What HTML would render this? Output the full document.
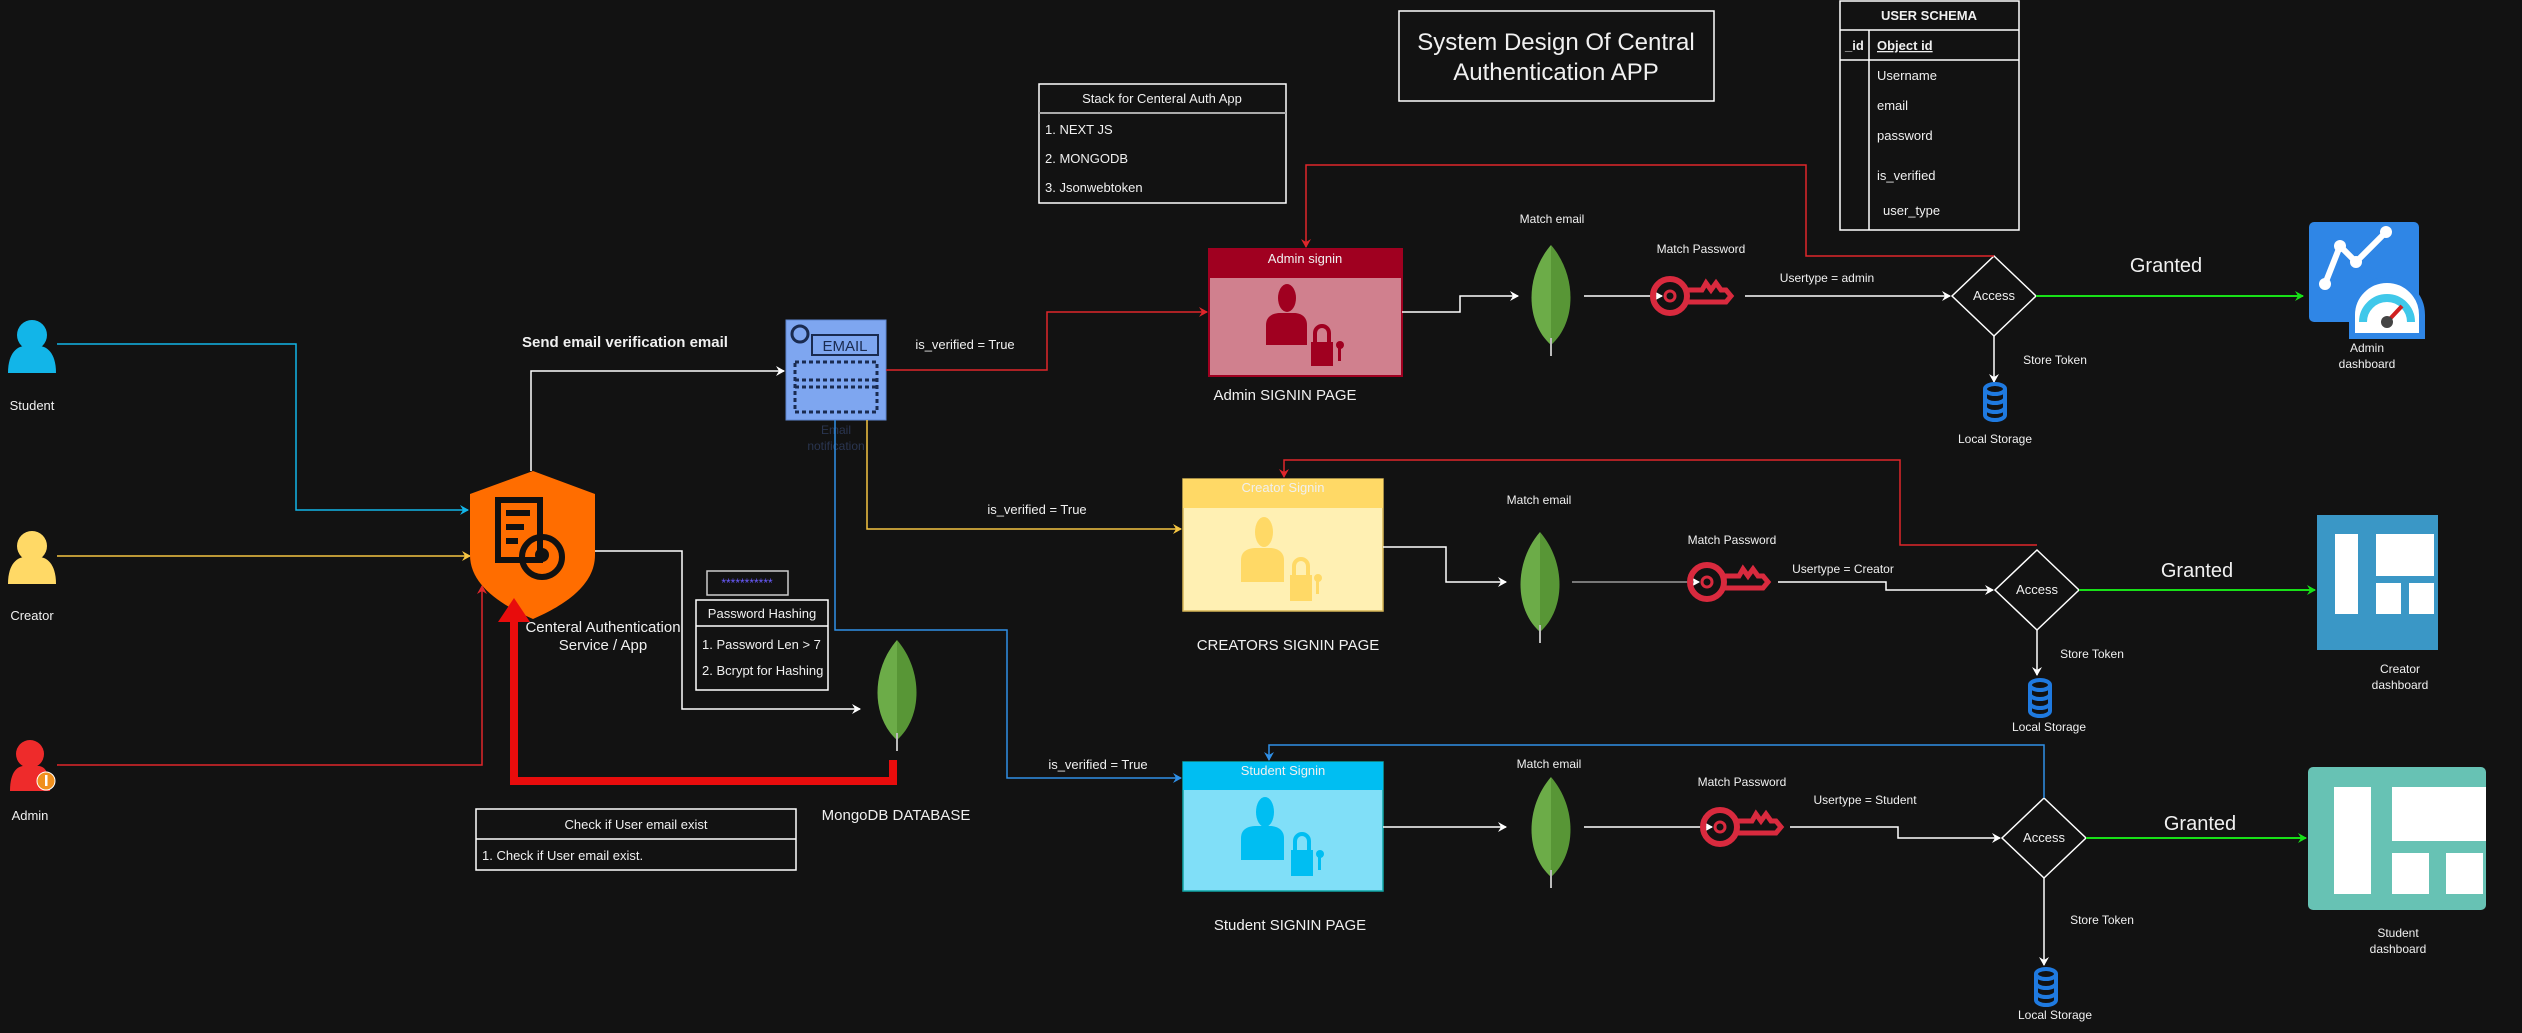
<!DOCTYPE html>
<html><head><meta charset="utf-8"><style>
html,body{margin:0;padding:0;background:#121212;}
svg{display:block;}
text{font-family:"Liberation Sans",sans-serif;fill:#f0f0f0;}
</style></head><body>
<svg width="2522" height="1033" viewBox="0 0 2522 1033" xmlns="http://www.w3.org/2000/svg">
<defs>
<marker id="aw" markerWidth="10" markerHeight="10" refX="8" refY="5" orient="auto" markerUnits="userSpaceOnUse"><path d="M0,0 L9,5 L0,10 L3,5 Z" fill="#fff"/></marker>
<marker id="ar" markerWidth="10" markerHeight="10" refX="8" refY="5" orient="auto" markerUnits="userSpaceOnUse"><path d="M0,0 L9,5 L0,10 L3,5 Z" fill="#e0262b"/></marker>
<marker id="ab" markerWidth="10" markerHeight="10" refX="8" refY="5" orient="auto" markerUnits="userSpaceOnUse"><path d="M0,0 L9,5 L0,10 L3,5 Z" fill="#2f8fe6"/></marker>
<marker id="ac" markerWidth="10" markerHeight="10" refX="8" refY="5" orient="auto" markerUnits="userSpaceOnUse"><path d="M0,0 L9,5 L0,10 L3,5 Z" fill="#12b5e8"/></marker>
<marker id="ay" markerWidth="10" markerHeight="10" refX="8" refY="5" orient="auto" markerUnits="userSpaceOnUse"><path d="M0,0 L9,5 L0,10 L3,5 Z" fill="#f5c542"/></marker>
<marker id="ag" markerWidth="10" markerHeight="10" refX="8" refY="5" orient="auto" markerUnits="userSpaceOnUse"><path d="M0,0 L9,5 L0,10 L3,5 Z" fill="#18e018"/></marker>
<g id="leaf"><path d="M0,-55 C26,-25 26,22 0,45 Z" fill="#589636"/><path d="M0,-55 C-26,-25 -26,22 0,45 Z" fill="#6cac48"/><line x1="0" y1="38" x2="0" y2="56" stroke="#bbb" stroke-width="2"/></g>
<g id="key"><circle cx="-20" cy="0" r="17" fill="none" stroke="#d92a3e" stroke-width="6"/><circle cx="-20" cy="0" r="5" fill="none" stroke="#d92a3e" stroke-width="3"/><path d="M-3,-6 L12,-6 L16,-13 L21,-6 L26,-13 L31,-6 L36,-6 L41,0 L36,6 L-3,6" fill="none" stroke="#d92a3e" stroke-width="5"/></g>
<g id="db"><g fill="none" stroke="#1f7ae0" stroke-width="4"><ellipse cx="0" cy="-13" rx="10" ry="5"/><path d="M-10,-13 V13 A10,5 0 0 0 10,13 V-13"/><path d="M-10,-4 A10,5 0 0 0 10,-4"/><path d="M-10,5 A10,5 0 0 0 10,5"/></g></g>
</defs>

<rect x="1399" y="11" width="315" height="90" fill="none" stroke="#fff" stroke-width="1.5"/>
<text x="1556" y="50" font-size="24" text-anchor="middle">System Design Of Central</text>
<text x="1556" y="80" font-size="24" text-anchor="middle">Authentication APP</text>

<rect x="1840" y="1" width="179" height="229" fill="none" stroke="#fff" stroke-width="1.5"/>
<line x1="1840" y1="30" x2="2019" y2="30" stroke="#fff" stroke-width="1.5"/>
<line x1="1840" y1="60" x2="2019" y2="60" stroke="#fff" stroke-width="1.5"/>
<line x1="1869" y1="30" x2="1869" y2="230" stroke="#fff" stroke-width="1.5"/>
<text x="1929" y="20" font-size="13" font-weight="bold" text-anchor="middle">USER SCHEMA</text>
<text x="1845" y="50" font-size="13" font-weight="bold">_id</text>
<text x="1877" y="50" font-size="13" font-weight="bold" text-decoration="underline">Object id</text>
<text x="1877" y="80" font-size="13">Username</text>
<text x="1877" y="110" font-size="13">email</text>
<text x="1877" y="140" font-size="13">password</text>
<text x="1877" y="180" font-size="13">is_verified</text>
<text x="1883" y="215" font-size="13">user_type</text>

<rect x="1039" y="84" width="247" height="119" fill="none" stroke="#fff" stroke-width="1.5"/>
<line x1="1039" y1="113" x2="1286" y2="113" stroke="#aaa" stroke-width="2"/>
<text x="1162" y="103" font-size="13" text-anchor="middle">Stack for Centeral Auth App</text>
<text x="1045" y="134" font-size="13">1. NEXT JS</text>
<text x="1045" y="163" font-size="13">2. MONGODB</text>
<text x="1045" y="192" font-size="13">3. Jsonwebtoken</text>

<g fill="#12b5e8"><circle cx="32" cy="335" r="15"/><path d="M8,373 C8,352 18,346 25,346 L39,346 C46,346 56,352 56,373 Z"/></g>
<text x="32" y="410" font-size="13" text-anchor="middle">Student</text>
<g fill="#ffd966"><circle cx="32" cy="546" r="15"/><path d="M8,584 C8,563 18,557 25,557 L39,557 C46,557 56,563 56,584 Z"/></g>
<text x="32" y="620" font-size="13" text-anchor="middle">Creator</text>
<g fill="#ee2b2b"><circle cx="30" cy="754" r="14"/><path d="M10,791 C10,771 18,766 24,766 L38,766 C44,766 50,771 50,791 Z"/></g>
<circle cx="46" cy="781" r="9" fill="#f0901e" stroke="#fff" stroke-width="1"/><rect x="45" y="775" width="2.5" height="11" fill="#fff"/>
<text x="30" y="820" font-size="13" text-anchor="middle">Admin</text>

<polyline points="57,344 296,344 296,510 468,510" fill="none" stroke="#12b5e8" stroke-width="1.5" marker-end="url(#ac)"/>
<polyline points="57,556 470,556" fill="none" stroke="#f5c542" stroke-width="1.5" marker-end="url(#ay)"/>
<polyline points="57,765 482,765 482,586" fill="none" stroke="#e0262b" stroke-width="1.5" marker-end="url(#ar)"/>

<path d="M533,471 L595,494 L595,555 C595,585 565,605 533,619 C501,605 470,585 470,555 L470,494 Z" fill="#ff6d00"/>
<g fill="none" stroke="#111" stroke-width="6"><rect x="498" y="500" width="42" height="60"/><circle cx="542" cy="557" r="20"/></g>
<g fill="#111"><rect x="506" y="510" width="24" height="6"/><rect x="506" y="524" width="18" height="6"/><rect x="506" y="538" width="12" height="6"/><circle cx="542" cy="555" r="7"/></g>
<text x="603" y="632" font-size="15" text-anchor="middle">Centeral Authentication</text>
<text x="603" y="650" font-size="15" text-anchor="middle">Service / App</text>

<polyline points="531,471 531,371 784,371" fill="none" stroke="#fff" stroke-width="1.5" marker-end="url(#aw)"/>
<text x="625" y="347" font-size="15" font-weight="bold" text-anchor="middle">Send email verification email</text>

<rect x="786" y="320" width="100" height="100" fill="#7ea6f0" stroke="#5f86d0"/>
<circle cx="800" cy="334" r="8" fill="none" stroke="#1a2b50" stroke-width="3"/>
<rect x="812" y="335" width="66" height="20" fill="none" stroke="#1a2b50" stroke-width="2"/>
<text x="845" y="351" font-size="15" text-anchor="middle" style="fill:#1a2b50">EMAIL</text>
<rect x="795" y="362" width="82" height="50" fill="none" stroke="#1a2b50" stroke-width="3" stroke-dasharray="4,3"/>
<line x1="795" y1="380" x2="877" y2="380" stroke="#1a2b50" stroke-width="3" stroke-dasharray="4,3"/>
<line x1="795" y1="387" x2="877" y2="387" stroke="#1a2b50" stroke-width="3" stroke-dasharray="4,3"/>
<text x="836" y="434" font-size="12" text-anchor="middle" style="fill:#2a3550">Email</text>
<text x="836" y="450" font-size="12" text-anchor="middle" style="fill:#2a3550">notification</text>

<polyline points="595,551 682,551 682,709 860,709" fill="none" stroke="#fff" stroke-width="1.5" marker-end="url(#aw)"/>
<rect x="707" y="571" width="81" height="24" fill="none" stroke="#ccc" stroke-width="1.5"/>
<text x="747" y="587" font-size="12" text-anchor="middle" style="fill:#6a5cff">***********</text>
<rect x="696" y="600" width="132" height="90" fill="none" stroke="#fff" stroke-width="1.5"/>
<line x1="696" y1="626" x2="828" y2="626" stroke="#fff" stroke-width="1.5"/>
<text x="762" y="618" font-size="13" text-anchor="middle">Password Hashing</text>
<text x="702" y="649" font-size="13">1. Password Len &gt; 7</text>
<text x="702" y="675" font-size="13">2. Bcrypt for Hashing</text>

<use href="#leaf" x="897" y="695"/>
<text x="896" y="820" font-size="15" text-anchor="middle">MongoDB DATABASE</text>

<polyline points="893,760 893,781 514,781 514,620" fill="none" stroke="#e80c0c" stroke-width="8"/>
<path d="M498,622 L514,598 L530,622 Z" fill="#e80c0c"/>

<rect x="476" y="809" width="320" height="61" fill="none" stroke="#fff" stroke-width="1.5"/>
<line x1="476" y1="839" x2="796" y2="839" stroke="#fff" stroke-width="1.5"/>
<text x="636" y="829" font-size="13" text-anchor="middle">Check if User email exist</text>
<text x="482" y="860" font-size="13">1. Check if User email exist.</text>

<polyline points="886,370 1047,370 1047,312 1207,312" fill="none" stroke="#e0262b" stroke-width="1.5" marker-end="url(#ar)"/>
<text x="965" y="349" font-size="13" text-anchor="middle">is_verified = True</text>
<polyline points="867,420 867,529 1181,529" fill="none" stroke="#f5c542" stroke-width="1.5" marker-end="url(#ay)"/>
<text x="1037" y="514" font-size="13" text-anchor="middle">is_verified = True</text>
<polyline points="835,420 835,630 1007,630 1007,778 1181,778" fill="none" stroke="#2f8fe6" stroke-width="1.5" marker-end="url(#ab)"/>
<text x="1098" y="769" font-size="13" text-anchor="middle">is_verified = True</text>

<!-- ADMIN ROW -->
<rect x="1209" y="249" width="193" height="127" fill="#d0808e" stroke="#a00020" stroke-width="2"/>
<rect x="1209" y="249" width="193" height="29" fill="#a00020"/>
<text x="1305" y="263" font-size="13" text-anchor="middle">Admin signin</text>
<g fill="#a00020"><ellipse cx="1287" cy="298" rx="9" ry="14"/><path d="M1266,345 L1266,325 C1266,315 1275,313 1280,313 L1294,313 C1300,313 1307,316 1307,325 L1307,345 Z"/><rect x="1311" y="342" width="22" height="24"/><path d="M1315,342 V333 A7,7 0 0 1 1329,333 V342" fill="none" stroke="#a00020" stroke-width="4"/><circle cx="1340" cy="345" r="4"/><rect x="1338" y="345" width="3" height="16"/></g>
<text x="1285" y="400" font-size="15" text-anchor="middle">Admin SIGNIN PAGE</text>
<polyline points="1402,312 1460,312 1460,296 1518,296" fill="none" stroke="#fff" stroke-width="1.5" marker-end="url(#aw)"/>
<use href="#leaf" x="1551" y="300"/>
<text x="1552" y="223" font-size="12" text-anchor="middle">Match email</text>
<line x1="1584" y1="296" x2="1662" y2="296" stroke="#fff" stroke-width="1.5" marker-end="url(#aw)"/>
<use href="#key" x="1690" y="296"/>
<text x="1701" y="253" font-size="12" text-anchor="middle">Match Password</text>
<line x1="1745" y1="296" x2="1950" y2="296" stroke="#fff" stroke-width="1.5" marker-end="url(#aw)"/>
<text x="1827" y="282" font-size="12" text-anchor="middle">Usertype = admin</text>
<polygon points="1994,256 2036,296 1994,336 1952,296" fill="#121212" stroke="#fff" stroke-width="1.5"/>
<text x="1994" y="300" font-size="13" text-anchor="middle">Access</text>
<polyline points="1994,256 1806,256 1806,165 1306,165 1306,247" fill="none" stroke="#e0262b" stroke-width="1.5" marker-end="url(#ar)"/>
<line x1="2036" y1="296" x2="2303" y2="296" stroke="#18e018" stroke-width="2" marker-end="url(#ag)"/>
<text x="2166" y="272" font-size="20" text-anchor="middle">Granted</text>
<line x1="1994" y1="336" x2="1994" y2="382" stroke="#fff" stroke-width="1.5" marker-end="url(#aw)"/>
<text x="2055" y="364" font-size="12" text-anchor="middle">Store Token</text>
<use href="#db" x="1995" y="402"/>
<text x="1995" y="443" font-size="12" text-anchor="middle">Local Storage</text>
<rect x="2309" y="222" width="110" height="100" rx="5" fill="#2f86e6"/>
<polyline points="2325,284 2340,246 2356,262 2386,232" fill="none" stroke="#fff" stroke-width="6"/>
<circle cx="2325" cy="284" r="6" fill="#fff"/><circle cx="2340" cy="246" r="6" fill="#fff"/><circle cx="2356" cy="262" r="6" fill="#fff"/><circle cx="2386" cy="232" r="6" fill="#fff"/>
<path d="M2352,336 L2352,315 A35,35 0 0 1 2422,315 L2422,336 Z" fill="#fff" stroke="#2f86e6" stroke-width="6"/>
<path d="M2363,322 A24,24 0 0 1 2411,322" fill="none" stroke="#40c8ea" stroke-width="8"/>
<line x1="2387" y1="322" x2="2402" y2="306" stroke="#d02020" stroke-width="4"/><circle cx="2387" cy="322" r="6" fill="#444"/>
<text x="2367" y="352" font-size="12" text-anchor="middle">Admin</text>
<text x="2367" y="368" font-size="12" text-anchor="middle">dashboard</text>

<!-- CREATOR ROW -->
<rect x="1183" y="479" width="200" height="132" fill="#fff0b3" stroke="#d6b656" stroke-width="1.5"/>
<rect x="1183" y="479" width="200" height="29" fill="#ffd966"/>
<text x="1283" y="492" font-size="13" text-anchor="middle">Creator Signin</text>
<g fill="#ffd966"><ellipse cx="1264" cy="532" rx="9" ry="15"/><path d="M1241,582 L1241,560 C1241,550 1250,548 1256,548 L1270,548 C1276,548 1284,551 1284,560 L1284,582 Z"/><rect x="1290" y="575" width="22" height="26"/><path d="M1294,575 V566 A7,7 0 0 1 1308,566 V575" fill="none" stroke="#ffd966" stroke-width="4"/><circle cx="1318" cy="578" r="4"/><rect x="1316" y="578" width="3" height="16"/></g>
<text x="1288" y="650" font-size="15" text-anchor="middle">CREATORS SIGNIN PAGE</text>
<polyline points="1383,547 1446,547 1446,582 1506,582" fill="none" stroke="#fff" stroke-width="1.5" marker-end="url(#aw)"/>
<use href="#leaf" x="1540" y="587"/>
<text x="1539" y="504" font-size="12" text-anchor="middle">Match email</text>
<line x1="1572" y1="582" x2="1699" y2="582" stroke="#999" stroke-width="1.5" marker-end="url(#aw)"/>
<use href="#key" x="1727" y="582"/>
<text x="1732" y="544" font-size="12" text-anchor="middle">Match Password</text>
<polyline points="1778,582 1886,582 1886,590 1993,590" fill="none" stroke="#fff" stroke-width="1.5" marker-end="url(#aw)"/>
<text x="1843" y="573" font-size="12" text-anchor="middle">Usertype = Creator</text>
<polygon points="2037,550 2079,590 2037,630 1995,590" fill="#121212" stroke="#fff" stroke-width="1.5"/>
<text x="2037" y="594" font-size="13" text-anchor="middle">Access</text>
<polyline points="2037,545 1900,545 1900,460 1284,460 1284,477" fill="none" stroke="#e0262b" stroke-width="1.5" marker-end="url(#ar)"/>
<line x1="2079" y1="590" x2="2315" y2="590" stroke="#18e018" stroke-width="2" marker-end="url(#ag)"/>
<text x="2197" y="577" font-size="20" text-anchor="middle">Granted</text>
<line x1="2037" y1="630" x2="2037" y2="675" stroke="#fff" stroke-width="1.5" marker-end="url(#aw)"/>
<text x="2092" y="658" font-size="12" text-anchor="middle">Store Token</text>
<use href="#db" x="2040" y="698"/>
<text x="2049" y="731" font-size="12" text-anchor="middle">Local Storage</text>
<rect x="2317" y="515" width="121" height="135" fill="#3a97c6"/>
<g fill="#fff"><rect x="2335" y="534" width="23" height="80"/><rect x="2376" y="534" width="58" height="42"/><rect x="2376" y="583" width="25" height="31"/><rect x="2409" y="583" width="25" height="31"/></g>
<text x="2400" y="673" font-size="12" text-anchor="middle">Creator</text>
<text x="2400" y="689" font-size="12" text-anchor="middle">dashboard</text>

<!-- STUDENT ROW -->
<rect x="1183" y="762" width="200" height="129" fill="#80dff8" stroke="#10a6a6" stroke-width="1.5"/>
<rect x="1183" y="762" width="200" height="28" fill="#00bef2"/>
<text x="1283" y="775" font-size="13" text-anchor="middle">Student Signin</text>
<g fill="#00bef2"><ellipse cx="1265" cy="812" rx="9" ry="15"/><path d="M1241,860 L1241,838 C1241,828 1250,826 1256,826 L1270,826 C1276,826 1284,829 1284,838 L1284,860 Z"/><rect x="1291" y="850" width="22" height="26"/><path d="M1295,850 V841 A7,7 0 0 1 1309,841 V850" fill="none" stroke="#00bef2" stroke-width="4"/><circle cx="1320" cy="854" r="4"/><rect x="1318" y="854" width="3" height="16"/></g>
<text x="1290" y="930" font-size="15" text-anchor="middle">Student SIGNIN PAGE</text>
<line x1="1383" y1="827" x2="1506" y2="827" stroke="#fff" stroke-width="1.5" marker-end="url(#aw)"/>
<use href="#leaf" x="1551" y="832"/>
<text x="1549" y="768" font-size="12" text-anchor="middle">Match email</text>
<line x1="1584" y1="827" x2="1712" y2="827" stroke="#fff" stroke-width="1.5" marker-end="url(#aw)"/>
<use href="#key" x="1740" y="827"/>
<text x="1742" y="786" font-size="12" text-anchor="middle">Match Password</text>
<polyline points="1790,827 1898,827 1898,838 2000,838" fill="none" stroke="#fff" stroke-width="1.5" marker-end="url(#aw)"/>
<text x="1865" y="804" font-size="12" text-anchor="middle">Usertype = Student</text>
<polygon points="2044,798 2086,838 2044,878 2002,838" fill="#121212" stroke="#fff" stroke-width="1.5"/>
<text x="2044" y="842" font-size="13" text-anchor="middle">Access</text>
<polyline points="2044,798 2044,745 1269,745 1269,760" fill="none" stroke="#2f8fe6" stroke-width="1.5" marker-end="url(#ab)"/>
<line x1="2086" y1="838" x2="2306" y2="838" stroke="#18e018" stroke-width="2" marker-end="url(#ag)"/>
<text x="2200" y="830" font-size="20" text-anchor="middle">Granted</text>
<line x1="2044" y1="878" x2="2044" y2="965" stroke="#fff" stroke-width="1.5" marker-end="url(#aw)"/>
<text x="2102" y="924" font-size="12" text-anchor="middle">Store Token</text>
<use href="#db" x="2046" y="987"/>
<text x="2055" y="1019" font-size="12" text-anchor="middle">Local Storage</text>
<rect x="2308" y="767" width="178" height="143" rx="5" fill="#67c2b4"/>
<g fill="#fff"><rect x="2334" y="787" width="37" height="107"/><rect x="2392" y="787" width="94" height="54"/><rect x="2392" y="853" width="37" height="41"/><rect x="2446" y="853" width="37" height="41"/></g>
<text x="2398" y="937" font-size="12" text-anchor="middle">Student</text>
<text x="2398" y="953" font-size="12" text-anchor="middle">dashboard</text>
</svg>
</body></html>
